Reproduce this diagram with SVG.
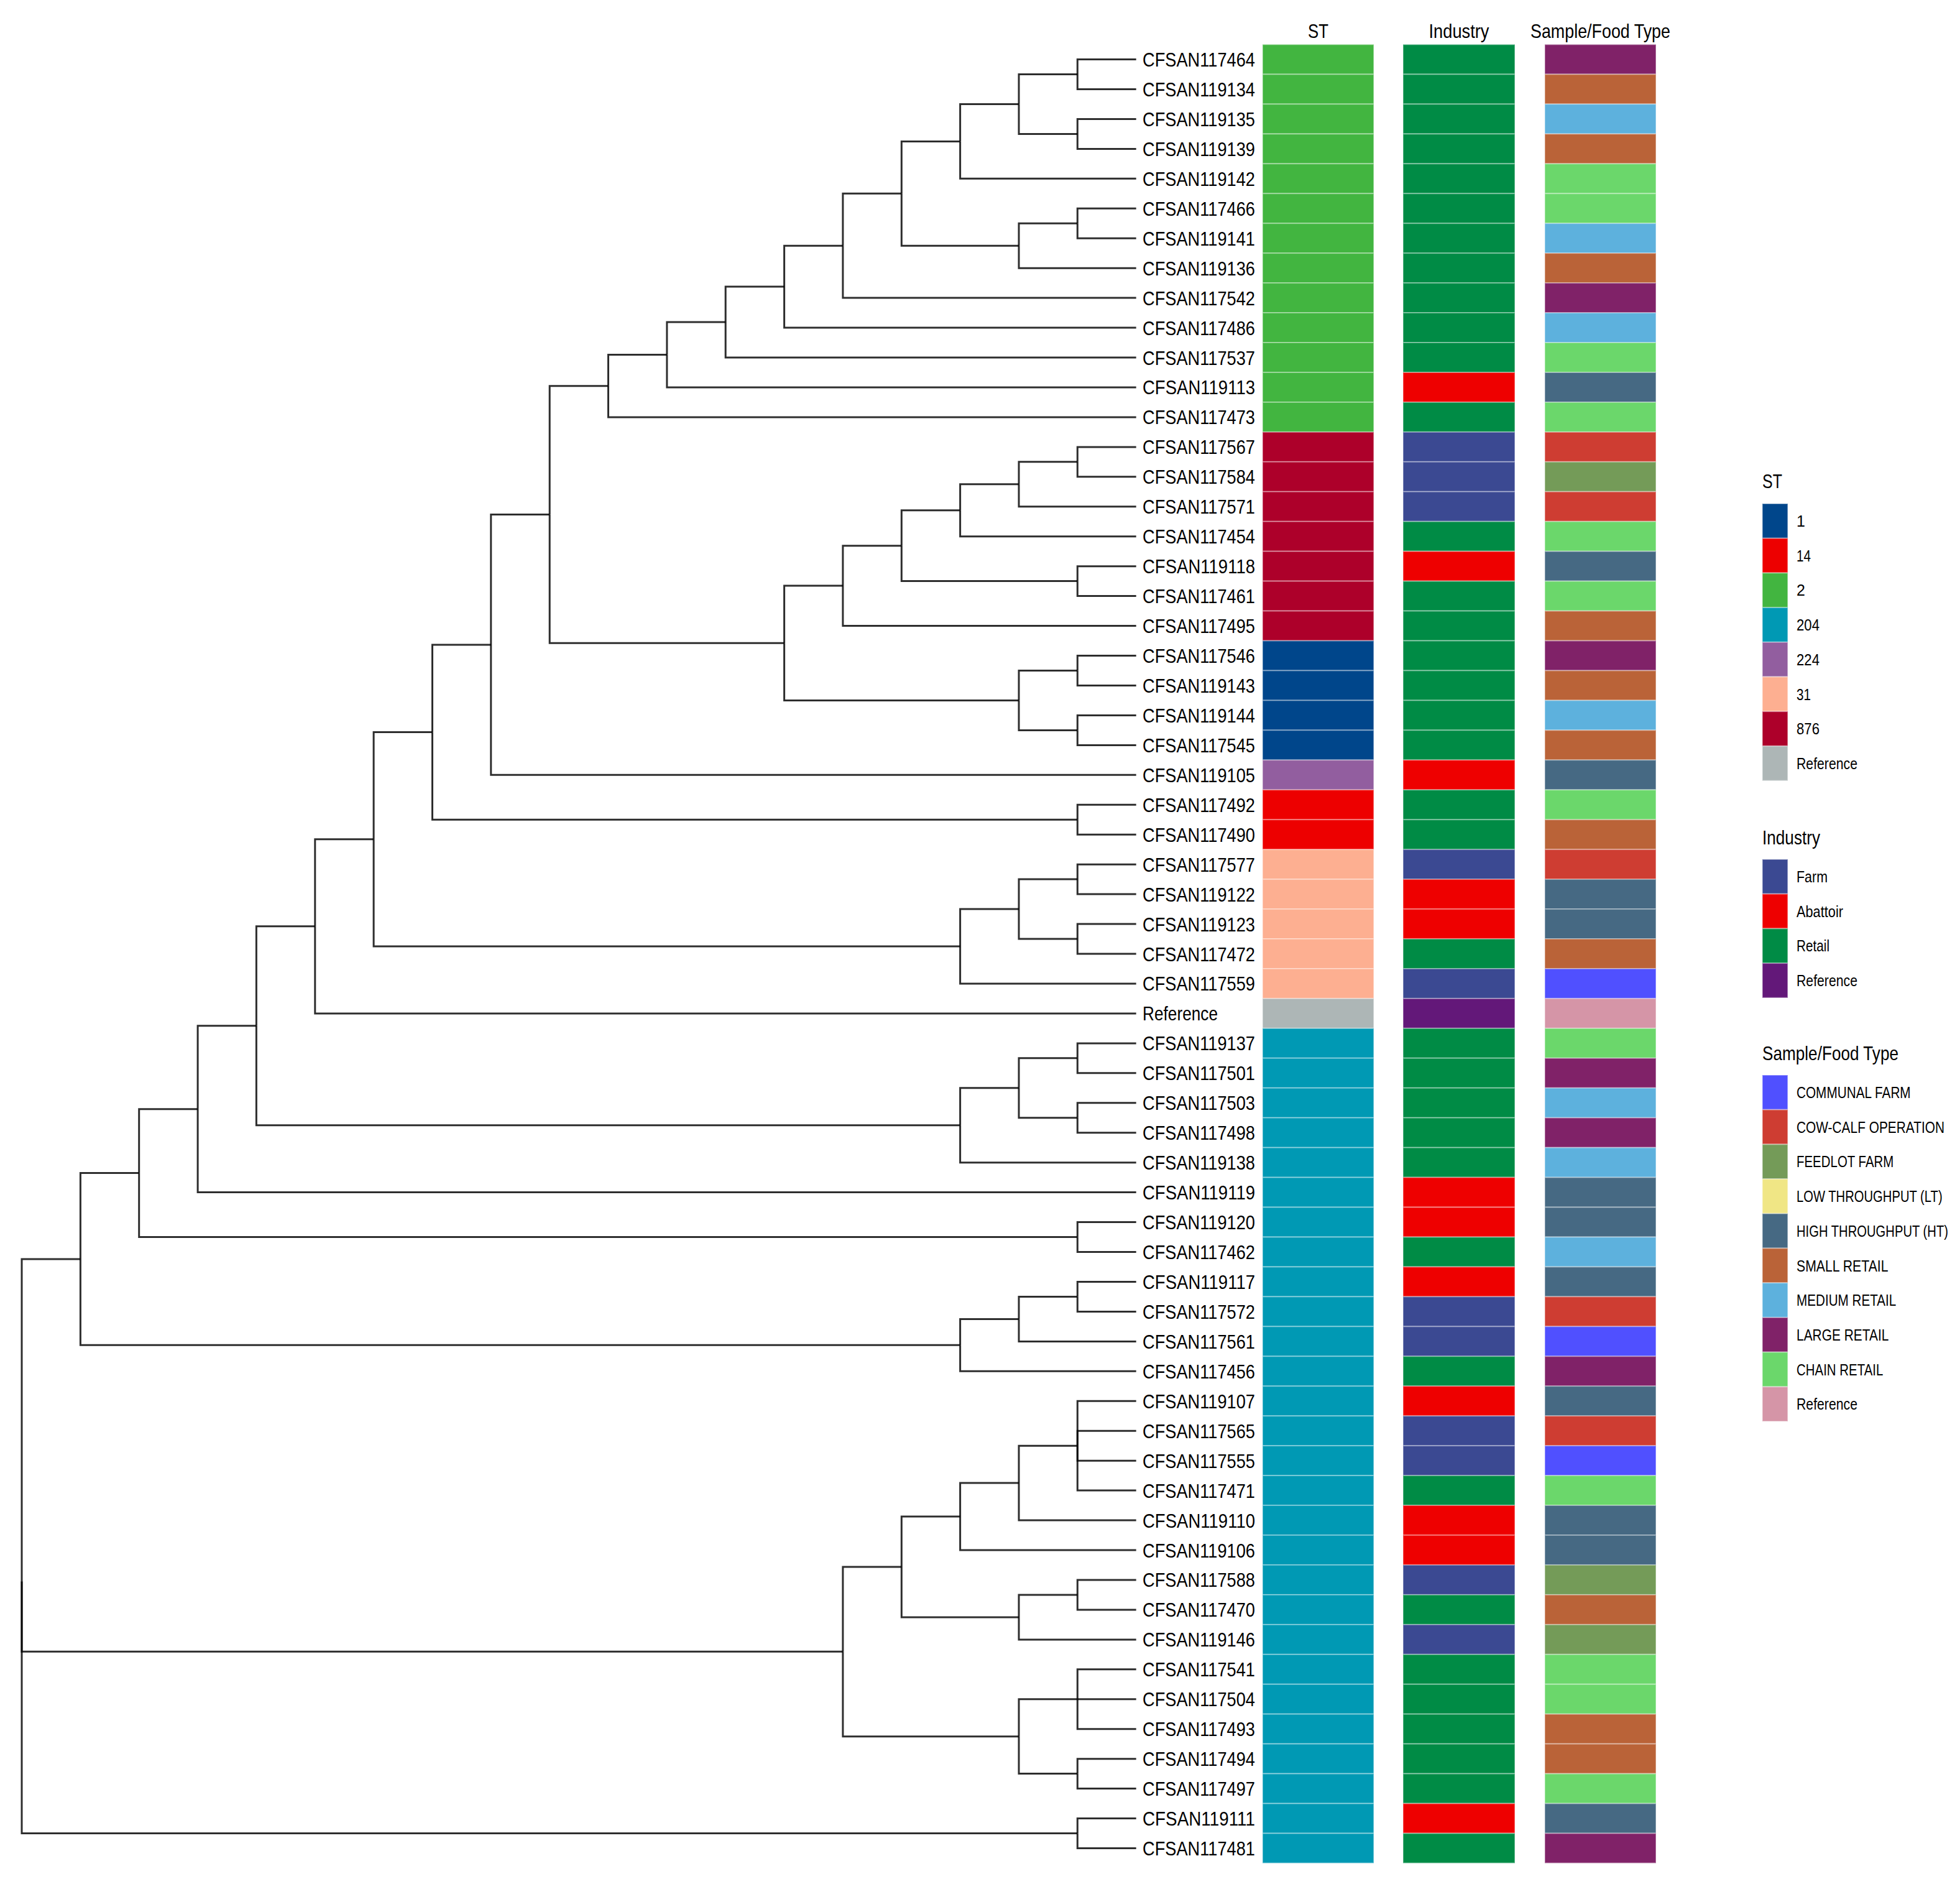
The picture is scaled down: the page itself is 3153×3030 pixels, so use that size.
<svg xmlns="http://www.w3.org/2000/svg" width="3153" height="3030" viewBox="0 0 3153 3030">
<style>
text{font-family:"Liberation Sans",Arial,Helvetica,sans-serif;fill:#000}
.tl{font-size:32px}
.hd{font-size:32px;text-anchor:middle}
.lt{font-size:32px}
.ll{font-size:25px}
.c{stroke:#fff;stroke-opacity:.35;stroke-width:2}
.e{fill:none;stroke:#000;stroke-opacity:.82;stroke-width:3}
.st1{fill:#00468B}.st14{fill:#ED0000}.st2{fill:#42B540}.st204{fill:#0099B4}.st224{fill:#925E9F}.st31{fill:#FDAF91}.st876{fill:#AD002A}.stR{fill:#ADB6B6}
.iF{fill:#3B4992}.iA{fill:#EE0000}.iR{fill:#008B45}.iX{fill:#631879}
.sCF{fill:#5050FF}.sCC{fill:#CE3D32}.sFF{fill:#749B58}.sLT{fill:#F0E685}.sHT{fill:#466983}.sSR{fill:#BA6338}.sMR{fill:#5DB1DD}.sLR{fill:#802268}.sCR{fill:#6BD76B}.sRef{fill:#D595A7}
</style>
<defs>
<rect id="cS" class="c" x="2031" y="0" width="179" height="47.95"/>
<rect id="cI" class="c" x="2257" y="0" width="180" height="47.95"/>
<rect id="cP" class="c" x="2485" y="0" width="179" height="47.95"/>
</defs>
<rect width="3153" height="3030" fill="#fff"/>

<g id="headers">
<text class="hd" x="2120.5" y="61" textLength="33" lengthAdjust="spacingAndGlyphs">ST</text>
<text class="hd" x="2347" y="61" textLength="97" lengthAdjust="spacingAndGlyphs">Industry</text>
<text class="hd" x="2574.5" y="61" textLength="225" lengthAdjust="spacingAndGlyphs">Sample/Food Type</text>
</g>

<g id="connectors" class="e">
<path d="M1733.3 119.5V95.5H1827.7M1733.3 119.5V143.5H1827.7"/>
<path d="M1733.3 215.4V191.4H1827.7M1733.3 215.4V239.4H1827.7"/>
<path d="M1639 167.4V119.5H1733.3"/><path d="M1639 167.4V215.4H1733.3"/>
<path d="M1544.6 227.4V167.4H1639"/><path d="M1544.6 227.4V287.3H1827.7"/>
<path d="M1733.3 359.2V335.3H1827.7"/><path d="M1733.3 359.2V383.2H1827.7"/>
<path d="M1639 395.2V359.2H1733.3"/><path d="M1639 395.2V431.2H1827.7"/>
<path d="M1450.3 311.3V227.4H1544.6"/><path d="M1450.3 311.3V395.2H1639"/>
<path d="M1355.9 395.2V311.3H1450.3"/><path d="M1355.9 395.2V479.1H1827.7"/>
<path d="M1261.6 461.1V395.2H1355.9"/><path d="M1261.6 461.1V527.1H1827.7"/>
<path d="M1167.2 518.1V461.1H1261.6"/><path d="M1167.2 518.1V575H1827.7"/>
<path d="M1072.9 570.5V518.1H1167.2"/><path d="M1072.9 570.5V623H1827.7"/>
<path d="M978.5 620.7V570.5H1072.9"/><path d="M978.5 620.7V670.9H1827.7"/>
<path d="M1733.3 742.8V718.9H1827.7"/><path d="M1733.3 742.8V766.8H1827.7"/>
<path d="M1639 778.8V742.8H1733.3"/><path d="M1639 778.8V814.8H1827.7"/>
<path d="M1544.6 820.7V778.8H1639"/><path d="M1544.6 820.7V862.7H1827.7"/>
<path d="M1733.3 934.6V910.7H1827.7"/><path d="M1733.3 934.6V958.6H1827.7"/>
<path d="M1450.3 877.7V820.7H1544.6"/><path d="M1450.3 877.7V934.6H1733.3"/>
<path d="M1355.9 942.1V877.7H1450.3"/><path d="M1355.9 942.1V1006.6H1827.7"/>
<path d="M1733.3 1078.5V1054.5H1827.7"/><path d="M1733.3 1078.5V1102.5H1827.7"/>
<path d="M1733.3 1174.4V1150.4H1827.7"/><path d="M1733.3 1174.4V1198.4H1827.7"/>
<path d="M1639 1126.4V1078.5H1733.3"/><path d="M1639 1126.4V1174.4H1733.3"/>
<path d="M1261.6 1034.3V942.1H1355.9"/><path d="M1261.6 1034.3V1126.4H1639"/>
<path d="M884.2 827.5V620.7H978.5"/><path d="M884.2 827.5V1034.3H1261.6"/>
<path d="M789.8 1036.9V827.5H884.2"/><path d="M789.8 1036.9V1246.3H1827.7"/>
<path d="M1733.3 1318.2V1294.3H1827.7"/><path d="M1733.3 1318.2V1342.2H1827.7"/>
<path d="M695.5 1177.6V1036.9H789.8"/><path d="M695.5 1177.6V1318.2H1733.3"/>
<path d="M1733.3 1414.1V1390.2H1827.7"/><path d="M1733.3 1414.1V1438.1H1827.7"/>
<path d="M1733.3 1510V1486.1H1827.7"/><path d="M1733.3 1510V1534H1827.7"/>
<path d="M1639 1462.1V1414.1H1733.3"/><path d="M1639 1462.1V1510H1733.3"/>
<path d="M1544.6 1522V1462.1H1639"/><path d="M1544.6 1522V1582H1827.7"/>
<path d="M601.1 1349.8V1177.6H695.5"/><path d="M601.1 1349.8V1522H1544.6"/>
<path d="M506.8 1489.8V1349.8H601.1"/><path d="M506.8 1489.8V1629.9H1827.7"/>
<path d="M1733.3 1701.8V1677.9H1827.7"/><path d="M1733.3 1701.8V1725.8H1827.7"/>
<path d="M1733.3 1797.7V1773.8H1827.7"/><path d="M1733.3 1797.7V1821.7H1827.7"/>
<path d="M1639 1749.8V1701.8H1733.3"/><path d="M1639 1749.8V1797.7H1733.3"/>
<path d="M1544.6 1809.7V1749.8H1639"/><path d="M1544.6 1809.7V1869.7H1827.7"/>
<path d="M412.4 1649.8V1489.8H506.8"/><path d="M412.4 1649.8V1809.7H1544.6"/>
<path d="M318.1 1783.7V1649.8H412.4"/><path d="M318.1 1783.7V1917.6H1827.7"/>
<path d="M1733.3 1989.5V1965.6H1827.7"/><path d="M1733.3 1989.5V2013.5H1827.7"/>
<path d="M223.7 1886.6V1783.7H318.1"/><path d="M223.7 1886.6V1989.5H1733.3"/>
<path d="M1733.3 2085.4V2061.5H1827.7"/><path d="M1733.3 2085.4V2109.4H1827.7"/>
<path d="M1639 2121.4V2085.4H1733.3"/><path d="M1639 2121.4V2157.4H1827.7"/>
<path d="M1544.6 2163.3V2121.4H1639"/><path d="M1544.6 2163.3V2205.3H1827.7"/>
<path d="M129.4 2025V1886.6H223.7"/><path d="M129.4 2025V2163.3H1544.6"/>
<path d="M1733.3 2325.2V2253.3H1827.7"/><path d="M1733.3 2325.2V2301.2H1827.7"/><path d="M1733.3 2325.2V2349.2H1827.7"/><path d="M1733.3 2325.2V2397.1H1827.7"/>
<path d="M1639 2385.1V2325.2H1733.3"/><path d="M1639 2385.1V2445.1H1827.7"/>
<path d="M1544.6 2439.1V2385.1H1639"/><path d="M1544.6 2439.1V2493H1827.7"/>
<path d="M1733.3 2564.9V2541H1827.7"/><path d="M1733.3 2564.9V2588.9H1827.7"/>
<path d="M1639 2600.9V2564.9H1733.3"/><path d="M1639 2600.9V2636.9H1827.7"/>
<path d="M1450.3 2520V2439.1H1544.6"/><path d="M1450.3 2520V2600.9H1639"/>
<path d="M1733.3 2732.8V2684.8H1827.7"/><path d="M1733.3 2732.8H1827.7"/><path d="M1733.3 2732.8V2780.7H1827.7"/>
<path d="M1733.3 2852.6V2828.7H1827.7"/><path d="M1733.3 2852.6V2876.6H1827.7"/>
<path d="M1639 2792.7V2732.8H1733.3"/><path d="M1639 2792.7V2852.6H1733.3"/>
<path d="M1355.9 2656.3V2520H1450.3"/><path d="M1355.9 2656.3V2792.7H1639"/>
<path d="M1733.3 2948.5V2924.6H1827.7"/><path d="M1733.3 2948.5V2972.5H1827.7"/>
<path d="M35 2543.3V2025H129.4"/><path d="M35 2543.3V2656.3H1355.9"/><path d="M35 2543.3V2948.5H1733.3"/>
</g>

<g id="tips">
<g id="tip-CFSAN117464" transform="translate(0 71.5)"><use href="#cS" class="st2"/><use href="#cI" class="iR"/><use href="#cP" class="sLR"/><text class="tl" x="1838" y="35.5" textLength="181" lengthAdjust="spacingAndGlyphs">CFSAN117464</text></g>
<g id="tip-CFSAN119134" transform="translate(0 119.45)"><use href="#cS" class="st2"/><use href="#cI" class="iR"/><use href="#cP" class="sSR"/><text class="tl" x="1838" y="35.5" textLength="181" lengthAdjust="spacingAndGlyphs">CFSAN119134</text></g>
<g id="tip-CFSAN119135" transform="translate(0 167.4)"><use href="#cS" class="st2"/><use href="#cI" class="iR"/><use href="#cP" class="sMR"/><text class="tl" x="1838" y="35.5" textLength="181" lengthAdjust="spacingAndGlyphs">CFSAN119135</text></g>
<g id="tip-CFSAN119139" transform="translate(0 215.35)"><use href="#cS" class="st2"/><use href="#cI" class="iR"/><use href="#cP" class="sSR"/><text class="tl" x="1838" y="35.5" textLength="181" lengthAdjust="spacingAndGlyphs">CFSAN119139</text></g>
<g id="tip-CFSAN119142" transform="translate(0 263.3)"><use href="#cS" class="st2"/><use href="#cI" class="iR"/><use href="#cP" class="sCR"/><text class="tl" x="1838" y="35.5" textLength="181" lengthAdjust="spacingAndGlyphs">CFSAN119142</text></g>
<g id="tip-CFSAN117466" transform="translate(0 311.25)"><use href="#cS" class="st2"/><use href="#cI" class="iR"/><use href="#cP" class="sCR"/><text class="tl" x="1838" y="35.5" textLength="181" lengthAdjust="spacingAndGlyphs">CFSAN117466</text></g>
<g id="tip-CFSAN119141" transform="translate(0 359.2)"><use href="#cS" class="st2"/><use href="#cI" class="iR"/><use href="#cP" class="sMR"/><text class="tl" x="1838" y="35.5" textLength="181" lengthAdjust="spacingAndGlyphs">CFSAN119141</text></g>
<g id="tip-CFSAN119136" transform="translate(0 407.15)"><use href="#cS" class="st2"/><use href="#cI" class="iR"/><use href="#cP" class="sSR"/><text class="tl" x="1838" y="35.5" textLength="181" lengthAdjust="spacingAndGlyphs">CFSAN119136</text></g>
<g id="tip-CFSAN117542" transform="translate(0 455.1)"><use href="#cS" class="st2"/><use href="#cI" class="iR"/><use href="#cP" class="sLR"/><text class="tl" x="1838" y="35.5" textLength="181" lengthAdjust="spacingAndGlyphs">CFSAN117542</text></g>
<g id="tip-CFSAN117486" transform="translate(0 503.05)"><use href="#cS" class="st2"/><use href="#cI" class="iR"/><use href="#cP" class="sMR"/><text class="tl" x="1838" y="35.5" textLength="181" lengthAdjust="spacingAndGlyphs">CFSAN117486</text></g>
<g id="tip-CFSAN117537" transform="translate(0 551)"><use href="#cS" class="st2"/><use href="#cI" class="iR"/><use href="#cP" class="sCR"/><text class="tl" x="1838" y="35.5" textLength="181" lengthAdjust="spacingAndGlyphs">CFSAN117537</text></g>
<g id="tip-CFSAN119113" transform="translate(0 598.95)"><use href="#cS" class="st2"/><use href="#cI" class="iA"/><use href="#cP" class="sHT"/><text class="tl" x="1838" y="35.5" textLength="181" lengthAdjust="spacingAndGlyphs">CFSAN119113</text></g>
<g id="tip-CFSAN117473" transform="translate(0 646.9)"><use href="#cS" class="st2"/><use href="#cI" class="iR"/><use href="#cP" class="sCR"/><text class="tl" x="1838" y="35.5" textLength="181" lengthAdjust="spacingAndGlyphs">CFSAN117473</text></g>
<g id="tip-CFSAN117567" transform="translate(0 694.85)"><use href="#cS" class="st876"/><use href="#cI" class="iF"/><use href="#cP" class="sCC"/><text class="tl" x="1838" y="35.5" textLength="181" lengthAdjust="spacingAndGlyphs">CFSAN117567</text></g>
<g id="tip-CFSAN117584" transform="translate(0 742.8)"><use href="#cS" class="st876"/><use href="#cI" class="iF"/><use href="#cP" class="sFF"/><text class="tl" x="1838" y="35.5" textLength="181" lengthAdjust="spacingAndGlyphs">CFSAN117584</text></g>
<g id="tip-CFSAN117571" transform="translate(0 790.75)"><use href="#cS" class="st876"/><use href="#cI" class="iF"/><use href="#cP" class="sCC"/><text class="tl" x="1838" y="35.5" textLength="181" lengthAdjust="spacingAndGlyphs">CFSAN117571</text></g>
<g id="tip-CFSAN117454" transform="translate(0 838.7)"><use href="#cS" class="st876"/><use href="#cI" class="iR"/><use href="#cP" class="sCR"/><text class="tl" x="1838" y="35.5" textLength="181" lengthAdjust="spacingAndGlyphs">CFSAN117454</text></g>
<g id="tip-CFSAN119118" transform="translate(0 886.65)"><use href="#cS" class="st876"/><use href="#cI" class="iA"/><use href="#cP" class="sHT"/><text class="tl" x="1838" y="35.5" textLength="181" lengthAdjust="spacingAndGlyphs">CFSAN119118</text></g>
<g id="tip-CFSAN117461" transform="translate(0 934.6)"><use href="#cS" class="st876"/><use href="#cI" class="iR"/><use href="#cP" class="sCR"/><text class="tl" x="1838" y="35.5" textLength="181" lengthAdjust="spacingAndGlyphs">CFSAN117461</text></g>
<g id="tip-CFSAN117495" transform="translate(0 982.55)"><use href="#cS" class="st876"/><use href="#cI" class="iR"/><use href="#cP" class="sSR"/><text class="tl" x="1838" y="35.5" textLength="181" lengthAdjust="spacingAndGlyphs">CFSAN117495</text></g>
<g id="tip-CFSAN117546" transform="translate(0 1030.5)"><use href="#cS" class="st1"/><use href="#cI" class="iR"/><use href="#cP" class="sLR"/><text class="tl" x="1838" y="35.5" textLength="181" lengthAdjust="spacingAndGlyphs">CFSAN117546</text></g>
<g id="tip-CFSAN119143" transform="translate(0 1078.45)"><use href="#cS" class="st1"/><use href="#cI" class="iR"/><use href="#cP" class="sSR"/><text class="tl" x="1838" y="35.5" textLength="181" lengthAdjust="spacingAndGlyphs">CFSAN119143</text></g>
<g id="tip-CFSAN119144" transform="translate(0 1126.4)"><use href="#cS" class="st1"/><use href="#cI" class="iR"/><use href="#cP" class="sMR"/><text class="tl" x="1838" y="35.5" textLength="181" lengthAdjust="spacingAndGlyphs">CFSAN119144</text></g>
<g id="tip-CFSAN117545" transform="translate(0 1174.35)"><use href="#cS" class="st1"/><use href="#cI" class="iR"/><use href="#cP" class="sSR"/><text class="tl" x="1838" y="35.5" textLength="181" lengthAdjust="spacingAndGlyphs">CFSAN117545</text></g>
<g id="tip-CFSAN119105" transform="translate(0 1222.3)"><use href="#cS" class="st224"/><use href="#cI" class="iA"/><use href="#cP" class="sHT"/><text class="tl" x="1838" y="35.5" textLength="181" lengthAdjust="spacingAndGlyphs">CFSAN119105</text></g>
<g id="tip-CFSAN117492" transform="translate(0 1270.25)"><use href="#cS" class="st14"/><use href="#cI" class="iR"/><use href="#cP" class="sCR"/><text class="tl" x="1838" y="35.5" textLength="181" lengthAdjust="spacingAndGlyphs">CFSAN117492</text></g>
<g id="tip-CFSAN117490" transform="translate(0 1318.2)"><use href="#cS" class="st14"/><use href="#cI" class="iR"/><use href="#cP" class="sSR"/><text class="tl" x="1838" y="35.5" textLength="181" lengthAdjust="spacingAndGlyphs">CFSAN117490</text></g>
<g id="tip-CFSAN117577" transform="translate(0 1366.15)"><use href="#cS" class="st31"/><use href="#cI" class="iF"/><use href="#cP" class="sCC"/><text class="tl" x="1838" y="35.5" textLength="181" lengthAdjust="spacingAndGlyphs">CFSAN117577</text></g>
<g id="tip-CFSAN119122" transform="translate(0 1414.1)"><use href="#cS" class="st31"/><use href="#cI" class="iA"/><use href="#cP" class="sHT"/><text class="tl" x="1838" y="35.5" textLength="181" lengthAdjust="spacingAndGlyphs">CFSAN119122</text></g>
<g id="tip-CFSAN119123" transform="translate(0 1462.05)"><use href="#cS" class="st31"/><use href="#cI" class="iA"/><use href="#cP" class="sHT"/><text class="tl" x="1838" y="35.5" textLength="181" lengthAdjust="spacingAndGlyphs">CFSAN119123</text></g>
<g id="tip-CFSAN117472" transform="translate(0 1510)"><use href="#cS" class="st31"/><use href="#cI" class="iR"/><use href="#cP" class="sSR"/><text class="tl" x="1838" y="35.5" textLength="181" lengthAdjust="spacingAndGlyphs">CFSAN117472</text></g>
<g id="tip-CFSAN117559" transform="translate(0 1557.95)"><use href="#cS" class="st31"/><use href="#cI" class="iF"/><use href="#cP" class="sCF"/><text class="tl" x="1838" y="35.5" textLength="181" lengthAdjust="spacingAndGlyphs">CFSAN117559</text></g>
<g id="tip-Reference" transform="translate(0 1605.9)"><use href="#cS" class="stR"/><use href="#cI" class="iX"/><use href="#cP" class="sRef"/><text class="tl" x="1838" y="35.5" textLength="121" lengthAdjust="spacingAndGlyphs">Reference</text></g>
<g id="tip-CFSAN119137" transform="translate(0 1653.85)"><use href="#cS" class="st204"/><use href="#cI" class="iR"/><use href="#cP" class="sCR"/><text class="tl" x="1838" y="35.5" textLength="181" lengthAdjust="spacingAndGlyphs">CFSAN119137</text></g>
<g id="tip-CFSAN117501" transform="translate(0 1701.8)"><use href="#cS" class="st204"/><use href="#cI" class="iR"/><use href="#cP" class="sLR"/><text class="tl" x="1838" y="35.5" textLength="181" lengthAdjust="spacingAndGlyphs">CFSAN117501</text></g>
<g id="tip-CFSAN117503" transform="translate(0 1749.75)"><use href="#cS" class="st204"/><use href="#cI" class="iR"/><use href="#cP" class="sMR"/><text class="tl" x="1838" y="35.5" textLength="181" lengthAdjust="spacingAndGlyphs">CFSAN117503</text></g>
<g id="tip-CFSAN117498" transform="translate(0 1797.7)"><use href="#cS" class="st204"/><use href="#cI" class="iR"/><use href="#cP" class="sLR"/><text class="tl" x="1838" y="35.5" textLength="181" lengthAdjust="spacingAndGlyphs">CFSAN117498</text></g>
<g id="tip-CFSAN119138" transform="translate(0 1845.65)"><use href="#cS" class="st204"/><use href="#cI" class="iR"/><use href="#cP" class="sMR"/><text class="tl" x="1838" y="35.5" textLength="181" lengthAdjust="spacingAndGlyphs">CFSAN119138</text></g>
<g id="tip-CFSAN119119" transform="translate(0 1893.6)"><use href="#cS" class="st204"/><use href="#cI" class="iA"/><use href="#cP" class="sHT"/><text class="tl" x="1838" y="35.5" textLength="181" lengthAdjust="spacingAndGlyphs">CFSAN119119</text></g>
<g id="tip-CFSAN119120" transform="translate(0 1941.55)"><use href="#cS" class="st204"/><use href="#cI" class="iA"/><use href="#cP" class="sHT"/><text class="tl" x="1838" y="35.5" textLength="181" lengthAdjust="spacingAndGlyphs">CFSAN119120</text></g>
<g id="tip-CFSAN117462" transform="translate(0 1989.5)"><use href="#cS" class="st204"/><use href="#cI" class="iR"/><use href="#cP" class="sMR"/><text class="tl" x="1838" y="35.5" textLength="181" lengthAdjust="spacingAndGlyphs">CFSAN117462</text></g>
<g id="tip-CFSAN119117" transform="translate(0 2037.45)"><use href="#cS" class="st204"/><use href="#cI" class="iA"/><use href="#cP" class="sHT"/><text class="tl" x="1838" y="35.5" textLength="181" lengthAdjust="spacingAndGlyphs">CFSAN119117</text></g>
<g id="tip-CFSAN117572" transform="translate(0 2085.4)"><use href="#cS" class="st204"/><use href="#cI" class="iF"/><use href="#cP" class="sCC"/><text class="tl" x="1838" y="35.5" textLength="181" lengthAdjust="spacingAndGlyphs">CFSAN117572</text></g>
<g id="tip-CFSAN117561" transform="translate(0 2133.35)"><use href="#cS" class="st204"/><use href="#cI" class="iF"/><use href="#cP" class="sCF"/><text class="tl" x="1838" y="35.5" textLength="181" lengthAdjust="spacingAndGlyphs">CFSAN117561</text></g>
<g id="tip-CFSAN117456" transform="translate(0 2181.3)"><use href="#cS" class="st204"/><use href="#cI" class="iR"/><use href="#cP" class="sLR"/><text class="tl" x="1838" y="35.5" textLength="181" lengthAdjust="spacingAndGlyphs">CFSAN117456</text></g>
<g id="tip-CFSAN119107" transform="translate(0 2229.25)"><use href="#cS" class="st204"/><use href="#cI" class="iA"/><use href="#cP" class="sHT"/><text class="tl" x="1838" y="35.5" textLength="181" lengthAdjust="spacingAndGlyphs">CFSAN119107</text></g>
<g id="tip-CFSAN117565" transform="translate(0 2277.2)"><use href="#cS" class="st204"/><use href="#cI" class="iF"/><use href="#cP" class="sCC"/><text class="tl" x="1838" y="35.5" textLength="181" lengthAdjust="spacingAndGlyphs">CFSAN117565</text></g>
<g id="tip-CFSAN117555" transform="translate(0 2325.15)"><use href="#cS" class="st204"/><use href="#cI" class="iF"/><use href="#cP" class="sCF"/><text class="tl" x="1838" y="35.5" textLength="181" lengthAdjust="spacingAndGlyphs">CFSAN117555</text></g>
<g id="tip-CFSAN117471" transform="translate(0 2373.1)"><use href="#cS" class="st204"/><use href="#cI" class="iR"/><use href="#cP" class="sCR"/><text class="tl" x="1838" y="35.5" textLength="181" lengthAdjust="spacingAndGlyphs">CFSAN117471</text></g>
<g id="tip-CFSAN119110" transform="translate(0 2421.05)"><use href="#cS" class="st204"/><use href="#cI" class="iA"/><use href="#cP" class="sHT"/><text class="tl" x="1838" y="35.5" textLength="181" lengthAdjust="spacingAndGlyphs">CFSAN119110</text></g>
<g id="tip-CFSAN119106" transform="translate(0 2469)"><use href="#cS" class="st204"/><use href="#cI" class="iA"/><use href="#cP" class="sHT"/><text class="tl" x="1838" y="35.5" textLength="181" lengthAdjust="spacingAndGlyphs">CFSAN119106</text></g>
<g id="tip-CFSAN117588" transform="translate(0 2516.95)"><use href="#cS" class="st204"/><use href="#cI" class="iF"/><use href="#cP" class="sFF"/><text class="tl" x="1838" y="35.5" textLength="181" lengthAdjust="spacingAndGlyphs">CFSAN117588</text></g>
<g id="tip-CFSAN117470" transform="translate(0 2564.9)"><use href="#cS" class="st204"/><use href="#cI" class="iR"/><use href="#cP" class="sSR"/><text class="tl" x="1838" y="35.5" textLength="181" lengthAdjust="spacingAndGlyphs">CFSAN117470</text></g>
<g id="tip-CFSAN119146" transform="translate(0 2612.85)"><use href="#cS" class="st204"/><use href="#cI" class="iF"/><use href="#cP" class="sFF"/><text class="tl" x="1838" y="35.5" textLength="181" lengthAdjust="spacingAndGlyphs">CFSAN119146</text></g>
<g id="tip-CFSAN117541" transform="translate(0 2660.8)"><use href="#cS" class="st204"/><use href="#cI" class="iR"/><use href="#cP" class="sCR"/><text class="tl" x="1838" y="35.5" textLength="181" lengthAdjust="spacingAndGlyphs">CFSAN117541</text></g>
<g id="tip-CFSAN117504" transform="translate(0 2708.75)"><use href="#cS" class="st204"/><use href="#cI" class="iR"/><use href="#cP" class="sCR"/><text class="tl" x="1838" y="35.5" textLength="181" lengthAdjust="spacingAndGlyphs">CFSAN117504</text></g>
<g id="tip-CFSAN117493" transform="translate(0 2756.7)"><use href="#cS" class="st204"/><use href="#cI" class="iR"/><use href="#cP" class="sSR"/><text class="tl" x="1838" y="35.5" textLength="181" lengthAdjust="spacingAndGlyphs">CFSAN117493</text></g>
<g id="tip-CFSAN117494" transform="translate(0 2804.65)"><use href="#cS" class="st204"/><use href="#cI" class="iR"/><use href="#cP" class="sSR"/><text class="tl" x="1838" y="35.5" textLength="181" lengthAdjust="spacingAndGlyphs">CFSAN117494</text></g>
<g id="tip-CFSAN117497" transform="translate(0 2852.6)"><use href="#cS" class="st204"/><use href="#cI" class="iR"/><use href="#cP" class="sCR"/><text class="tl" x="1838" y="35.5" textLength="181" lengthAdjust="spacingAndGlyphs">CFSAN117497</text></g>
<g id="tip-CFSAN119111" transform="translate(0 2900.55)"><use href="#cS" class="st204"/><use href="#cI" class="iA"/><use href="#cP" class="sHT"/><text class="tl" x="1838" y="35.5" textLength="181" lengthAdjust="spacingAndGlyphs">CFSAN119111</text></g>
<g id="tip-CFSAN117481" transform="translate(0 2948.5)"><use href="#cS" class="st204"/><use href="#cI" class="iR"/><use href="#cP" class="sLR"/><text class="tl" x="1838" y="35.5" textLength="181" lengthAdjust="spacingAndGlyphs">CFSAN117481</text></g>
</g>

<g id="legend-st">
<text class="lt" x="2835" y="785" textLength="32" lengthAdjust="spacingAndGlyphs">ST</text>
<rect class="c st1" x="2835" y="810" width="41" height="55.7"/><text class="ll" x="2890" y="847">1</text>
<rect class="c st14" x="2835" y="865.7" width="41" height="55.7"/><text class="ll" x="2890" y="902.7" textLength="23" lengthAdjust="spacingAndGlyphs">14</text>
<rect class="c st2" x="2835" y="921.4" width="41" height="55.7"/><text class="ll" x="2890" y="958.4">2</text>
<rect class="c st204" x="2835" y="977.1" width="41" height="55.7"/><text class="ll" x="2890" y="1014.1" textLength="37" lengthAdjust="spacingAndGlyphs">204</text>
<rect class="c st224" x="2835" y="1032.8" width="41" height="55.7"/><text class="ll" x="2890" y="1069.8" textLength="37" lengthAdjust="spacingAndGlyphs">224</text>
<rect class="c st31" x="2835" y="1088.5" width="41" height="55.7"/><text class="ll" x="2890" y="1125.5" textLength="23" lengthAdjust="spacingAndGlyphs">31</text>
<rect class="c st876" x="2835" y="1144.2" width="41" height="55.7"/><text class="ll" x="2890" y="1181.2" textLength="37" lengthAdjust="spacingAndGlyphs">876</text>
<rect class="c stR" x="2835" y="1199.9" width="41" height="55.7"/><text class="ll" x="2890" y="1236.9" textLength="98" lengthAdjust="spacingAndGlyphs">Reference</text>
</g>

<g id="legend-industry">
<text class="lt" x="2835" y="1358" textLength="93" lengthAdjust="spacingAndGlyphs">Industry</text>
<rect class="c iF" x="2835" y="1382" width="41" height="55.7"/><text class="ll" x="2890" y="1419" textLength="50" lengthAdjust="spacingAndGlyphs">Farm</text>
<rect class="c iA" x="2835" y="1437.7" width="41" height="55.7"/><text class="ll" x="2890" y="1474.7" textLength="75" lengthAdjust="spacingAndGlyphs">Abattoir</text>
<rect class="c iR" x="2835" y="1493.4" width="41" height="55.7"/><text class="ll" x="2890" y="1530.4" textLength="53" lengthAdjust="spacingAndGlyphs">Retail</text>
<rect class="c iX" x="2835" y="1549.1" width="41" height="55.7"/><text class="ll" x="2890" y="1586.1" textLength="98" lengthAdjust="spacingAndGlyphs">Reference</text>
</g>

<g id="legend-sample">
<text class="lt" x="2835" y="1705" textLength="219" lengthAdjust="spacingAndGlyphs">Sample/Food Type</text>
<rect class="c sCF" x="2835" y="1729" width="41" height="55.7"/><text class="ll" transform="translate(2890 1766) scale(0.83 1)">COMMUNAL FARM</text>
<rect class="c sCC" x="2835" y="1784.7" width="41" height="55.7"/><text class="ll" transform="translate(2890 1821.7) scale(0.835 1)">COW-CALF OPERATION</text>
<rect class="c sFF" x="2835" y="1840.4" width="41" height="55.7"/><text class="ll" transform="translate(2890 1877.4) scale(0.818 1)">FEEDLOT FARM</text>
<rect class="c sLT" x="2835" y="1896.1" width="41" height="55.7"/><text class="ll" transform="translate(2890 1933.1) scale(0.809 1)">LOW THROUGHPUT (LT)</text>
<rect class="c sHT" x="2835" y="1951.8" width="41" height="55.7"/><text class="ll" transform="translate(2890 1988.8) scale(0.809 1)">HIGH THROUGHPUT (HT)</text>
<rect class="c sSR" x="2835" y="2007.5" width="41" height="55.7"/><text class="ll" transform="translate(2890 2044.5) scale(0.85 1)">SMALL RETAIL</text>
<rect class="c sMR" x="2835" y="2063.2" width="41" height="55.7"/><text class="ll" transform="translate(2890 2100.2) scale(0.827 1)">MEDIUM RETAIL</text>
<rect class="c sLR" x="2835" y="2118.9" width="41" height="55.7"/><text class="ll" transform="translate(2890 2155.9) scale(0.837 1)">LARGE RETAIL</text>
<rect class="c sCR" x="2835" y="2174.6" width="41" height="55.7"/><text class="ll" transform="translate(2890 2211.6) scale(0.818 1)">CHAIN RETAIL</text>
<rect class="c sRef" x="2835" y="2230.3" width="41" height="55.7"/><text class="ll" transform="translate(2890 2267.3) scale(0.85 1)">Reference</text>
</g>
</svg>
